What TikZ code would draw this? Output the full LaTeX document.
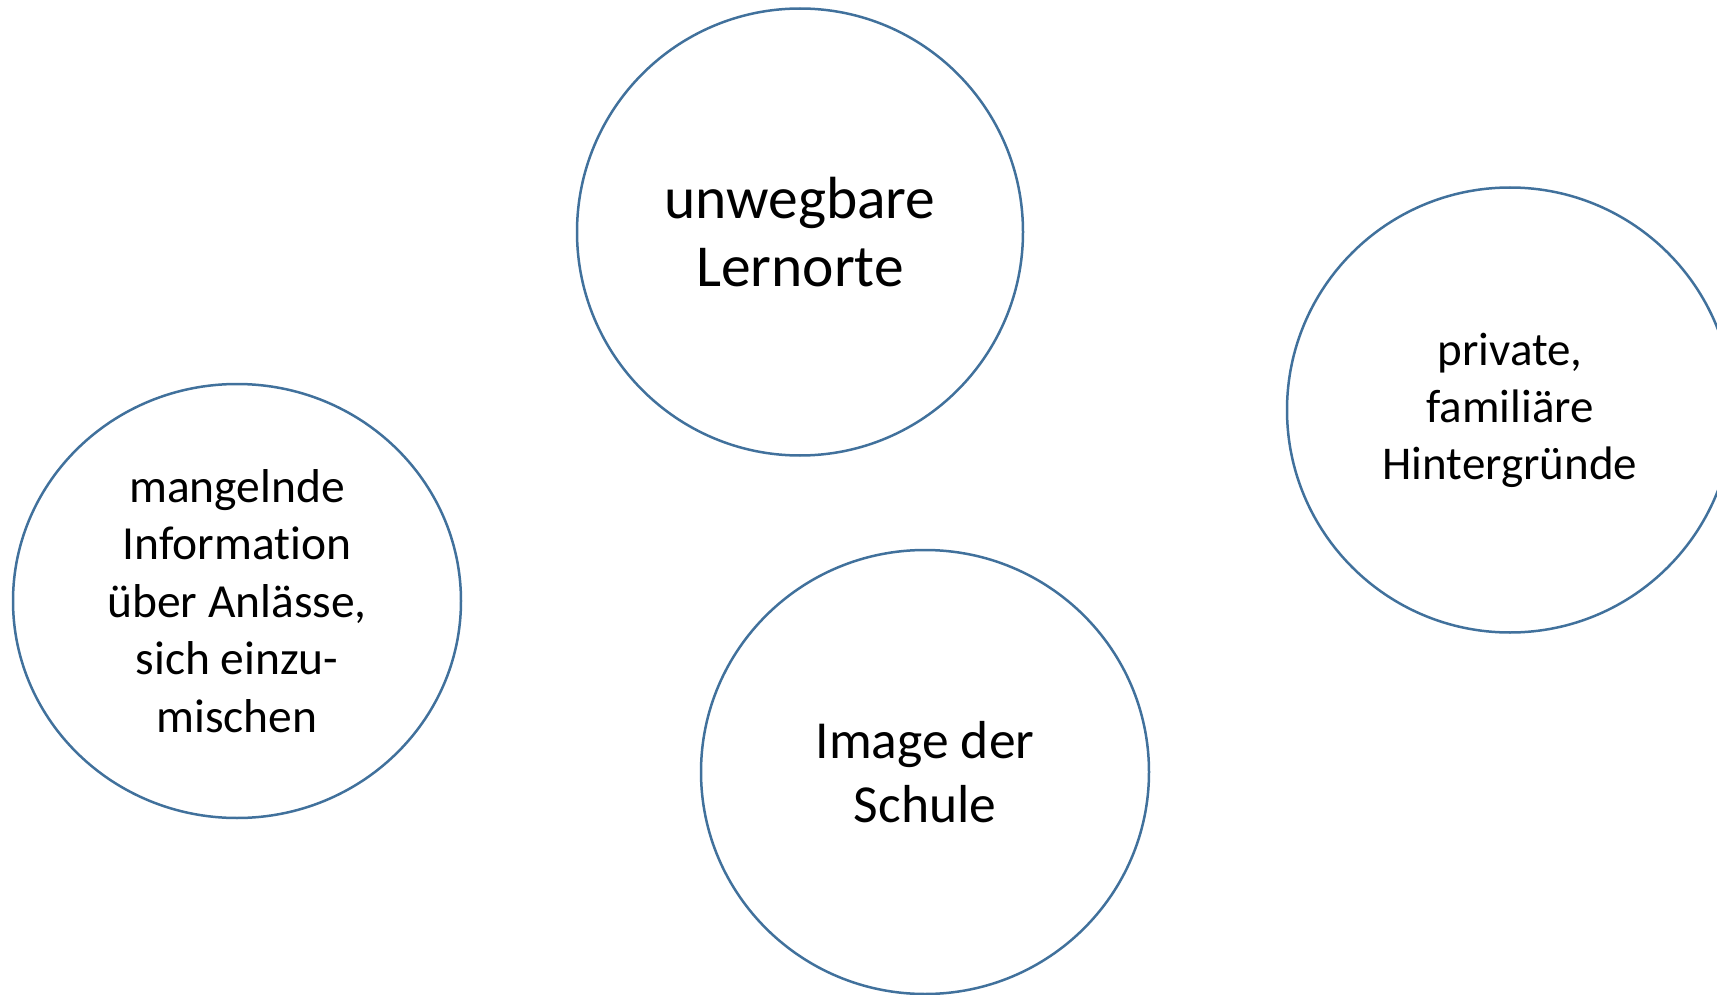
\documentclass[tikz,border=0pt]{standalone}
\usepackage{fontspec}
\setmainfont{Carlito}[Ligatures=NoCommon]
\usetikzlibrary{shapes.geometric}
\definecolor{ringblue}{HTML}{41719C}
\tikzset{
  ring/.style={ellipse, draw=ringblue, line width=2.5pt, inner sep=0pt, fill=none},
  ringtext/.style={align=center, text=black, inner sep=0pt},
}
\begin{document}
\begin{tikzpicture}[x=1pt,y=-1pt]
\useasboundingbox (0,0) rectangle (1717,995);
\clip (0,0) rectangle (1717,995);
\node[ring, minimum width=446pt, minimum height=447pt] (top) at (800,232) {};
\node[ringtext, font=\fontsize{59.5}{68}\selectfont] (toptext) at (top.center) {unwegbare\\Lernorte};
\node[ring, minimum width=448pt, minimum height=434pt] (left) at (237,601) {};
\node[ringtext, font=\fontsize{47.5}{57.5}\selectfont] (lefttext) at (left.center) {mangelnde\\Information\\über Anlässe,\\sich einzu-\\mischen};
\node[ring, minimum width=448pt, minimum height=444pt] (bottom) at (925,772) {};
\node[ringtext, font=\fontsize{53.5}{63.5}\selectfont] (bottomtext) at (bottom.center) {Image der\\Schule};
\node[ring, minimum width=446pt, minimum height=445pt] (right) at (1510,410) {};
\node[ringtext, font=\fontsize{47}{57}\selectfont] (righttext) at (right.center) {private,\\familiäre\\Hintergründe};
\end{tikzpicture}
\end{document}
